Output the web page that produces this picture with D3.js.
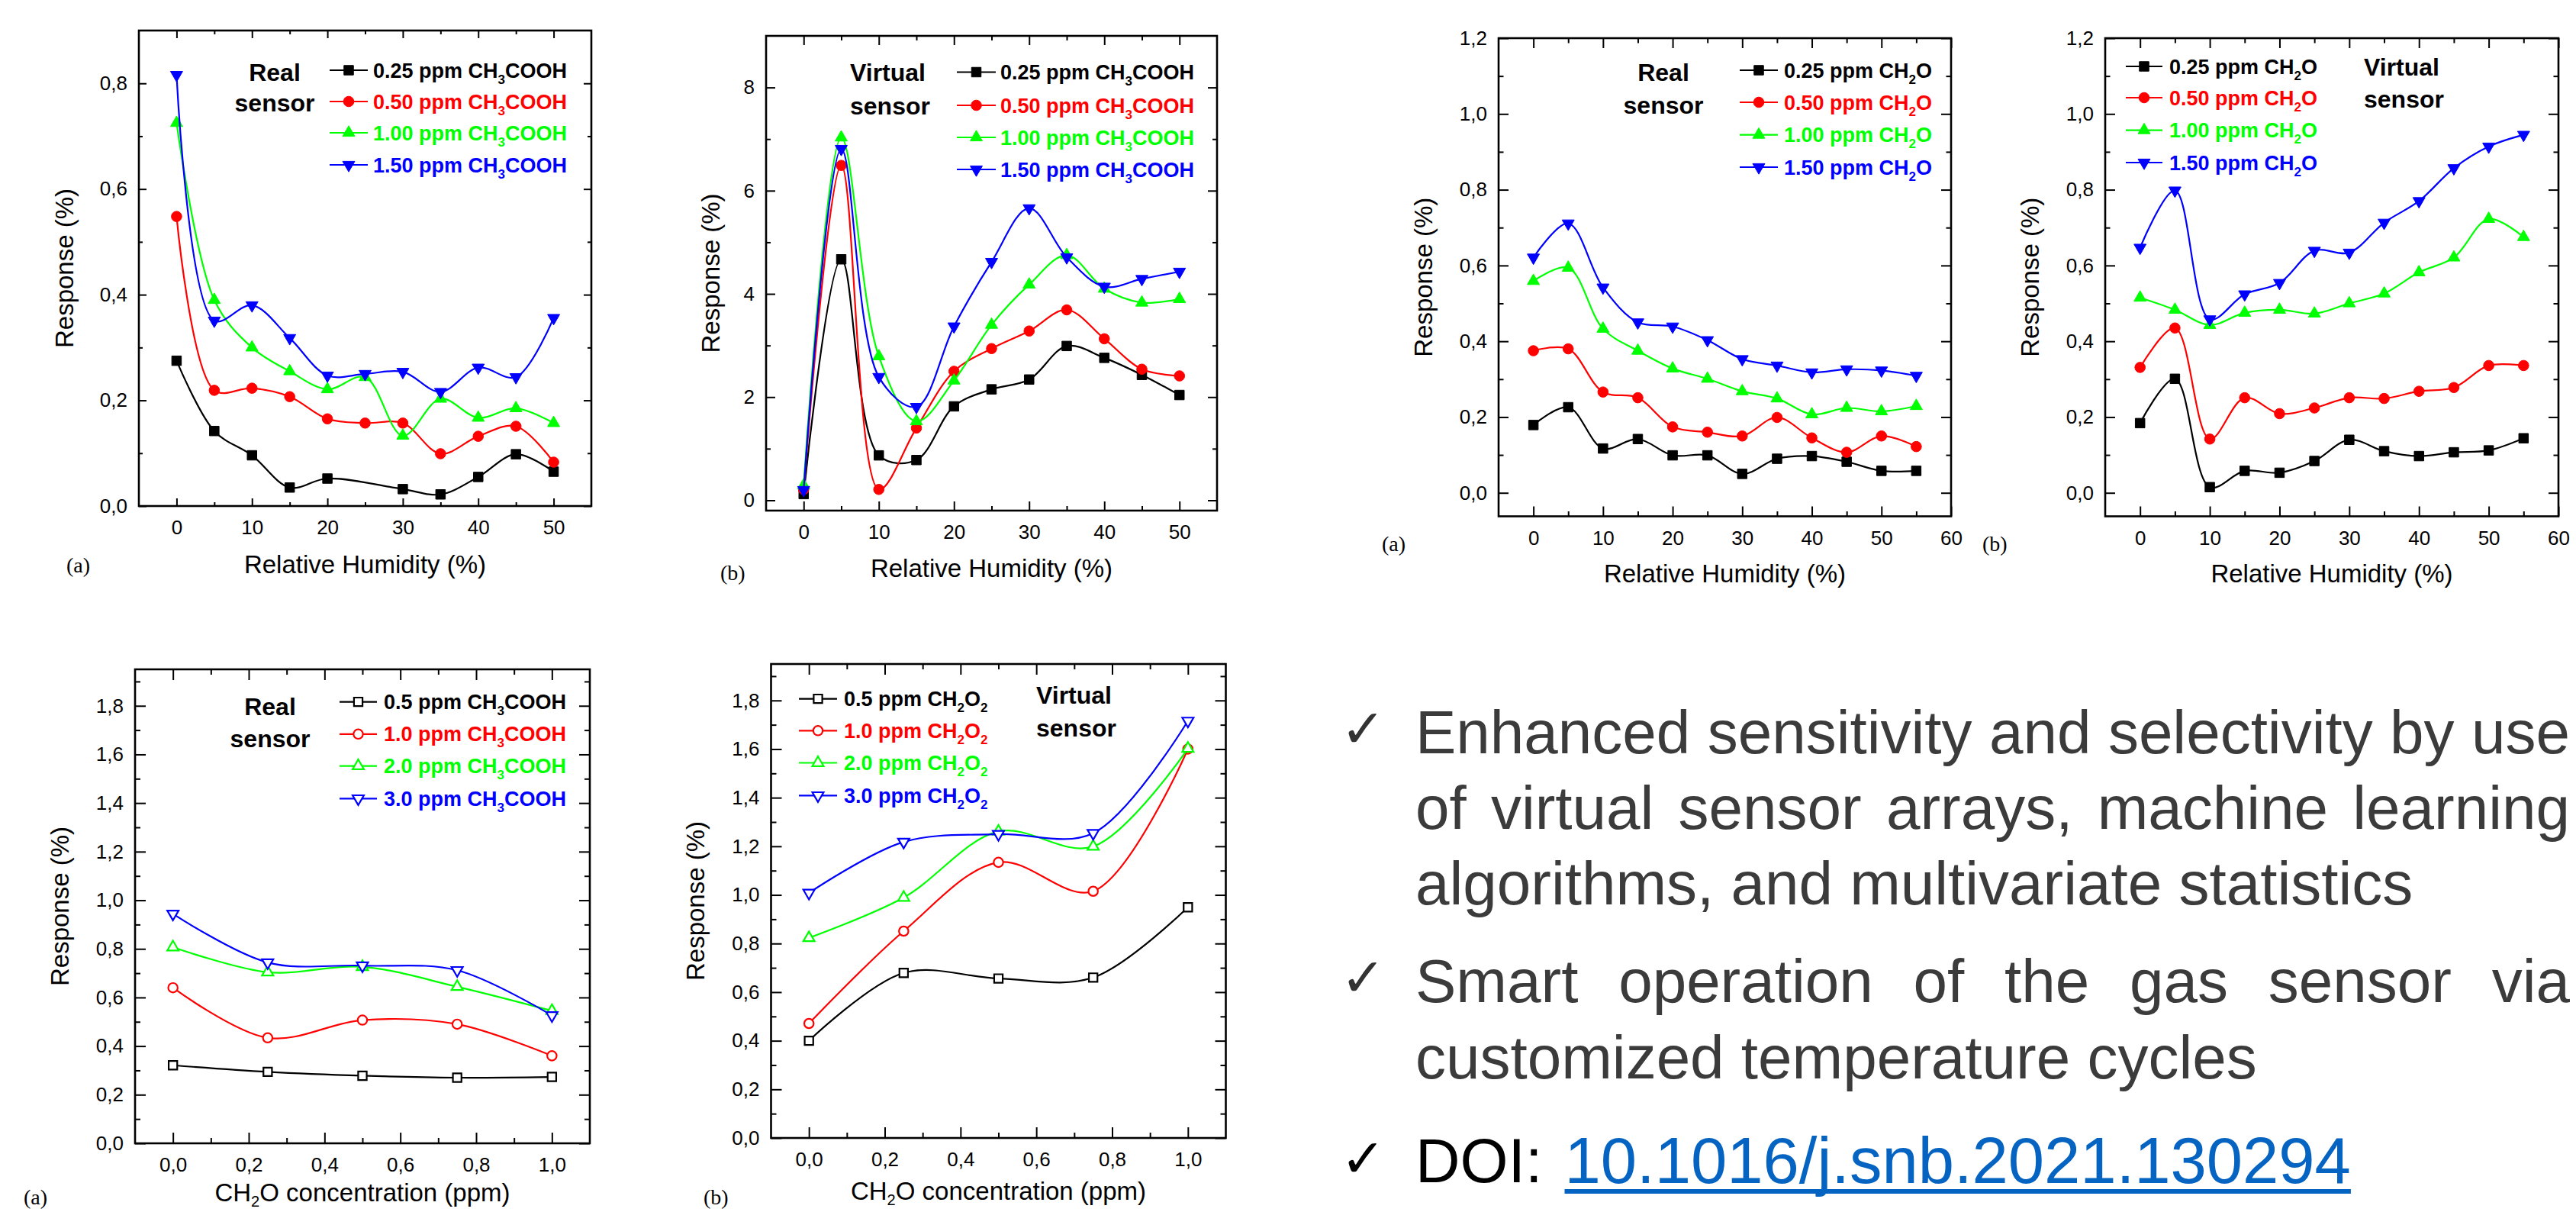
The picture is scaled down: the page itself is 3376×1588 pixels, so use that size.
<!DOCTYPE html>
<html><head><meta charset="utf-8">
<script src="https://cdn.jsdelivr.net/npm/d3@7"></script>
<style>body{margin:0;background:#fff}svg{display:block}</style>
</head><body>
<svg id="c" width="3376" height="1588"></svg>
<script>
// ---------- DATA ----------
const humidity50 = [0,5,10,15,20,25,30,35,40,45,50];
const humidity55 = [0,5,10,15,20,25,30,35,40,45,50,55];
const concentration = [0,0.25,0.5,0.75,1.0];

// (a) acetic acid, real sensor
const acReal025 = [0.275,0.142,0.096,0.035,0.052,null,0.032,0.022,0.055,0.098,0.065];
const acReal050 = [0.548,0.219,0.223,0.207,0.165,0.157,0.157,0.099,0.132,0.151,0.083];
const acReal100 = [0.725,0.390,0.300,0.255,0.221,0.244,0.133,0.203,0.167,0.185,0.157];
const acReal150 = [0.816,0.351,0.380,0.318,0.247,0.250,0.254,0.216,0.262,0.244,0.356];
// (b) acetic acid, virtual sensor
const acVirt025 = [0.12,4.67,0.87,0.78,1.82,2.15,2.34,2.99,2.76,2.43,2.04];
const acVirt050 = [0.21,6.49,0.21,1.40,2.50,2.94,3.28,3.69,3.13,2.54,2.41];
const acVirt100 = [0.29,7.03,2.79,1.53,2.32,3.40,4.18,4.75,4.10,3.83,3.90];
const acVirt150 = [0.20,6.81,2.39,1.81,3.37,4.62,5.66,4.71,4.14,4.29,4.43];
// (a) formaldehyde, real sensor
const fmReal025 = [0.179,0.226,0.117,0.142,0.099,0.099,0.050,0.090,0.097,0.082,0.058,0.058];
const fmReal050 = [0.375,0.380,0.266,0.251,0.174,0.160,0.150,0.199,0.145,0.107,0.150,0.122];
const fmReal100 = [0.559,0.594,0.433,0.375,0.328,0.301,0.268,0.249,0.207,0.224,0.215,0.229];
const fmReal150 = [0.621,0.711,0.542,0.450,0.439,0.403,0.353,0.336,0.318,0.326,0.323,0.309];
// (b) formaldehyde, virtual sensor
const fmVirt025 = [0.184,0.301,0.015,0.058,0.053,0.084,0.140,0.110,0.097,0.107,0.112,0.144];
const fmVirt050 = [0.331,0.435,0.142,0.251,0.209,0.224,0.251,0.249,0.268,0.278,0.336,0.336];
const fmVirt100 = [0.515,0.483,0.443,0.475,0.483,0.473,0.500,0.526,0.582,0.621,0.723,0.675];
const fmVirt150 = [0.647,0.798,0.458,0.524,0.554,0.639,0.634,0.713,0.770,0.857,0.914,0.945];
// (a) cross response, real sensor
const crReal05 = [0.321,0.294,0.278,0.270,0.273];
const crReal10 = [0.640,0.434,0.507,0.490,0.360];
const crReal20 = [0.807,0.704,0.726,0.644,0.545];
const crReal30 = [0.944,0.744,0.731,0.712,0.526];
// (b) cross response, virtual sensor
const crVirt05 = [0.400,0.679,0.656,0.660,0.949];
const crVirt10 = [0.471,0.851,1.134,1.015,1.600];
const crVirt20 = [0.823,0.989,1.261,1.199,1.602];
const crVirt30 = [1.008,1.218,1.250,1.254,1.716];

// legend labels: even segments normal, odd segments subscript
const labelsAcetic = [["0.25 ppm CH","3","COOH"],["0.50 ppm CH","3","COOH"],["1.00 ppm CH","3","COOH"],["1.50 ppm CH","3","COOH"]];
const labelsFormal = [["0.25 ppm CH","2","O"],["0.50 ppm CH","2","O"],["1.00 ppm CH","2","O"],["1.50 ppm CH","2","O"]];
const labelsCrossReal = [["0.5 ppm CH","3","COOH"],["1.0 ppm CH","3","COOH"],["2.0 ppm CH","3","COOH"],["3.0 ppm CH","3","COOH"]];
const labelsCrossVirt = [["0.5 ppm CH","2","O","2"],["1.0 ppm CH","2","O","2"],["2.0 ppm CH","2","O","2"],["3.0 ppm CH","2","O","2"]];

// tick values
const ticksRH50 = [0,10,20,30,40,50];
const ticksRH50Minor = [5,15,25,35,45];
const ticksRH60 = [0,10,20,30,40,50,60];
const ticksRH60Minor = [5,15,25,35,45,55];
const ticksAcReal = [0,0.2,0.4,0.6,0.8];
const ticksAcRealMinor = [0.1,0.3,0.5,0.7];
const ticksAcVirt = [0,2,4,6,8];
const ticksAcVirtMinor = [1,3,5,7];
const ticksFormal = [0,0.2,0.4,0.6,0.8,1.0,1.2];
const ticksFormalMinor = [0.1,0.3,0.5,0.7,0.9,1.1];
const ticksCross = [0,0.2,0.4,0.6,0.8,1.0,1.2,1.4,1.6,1.8];
const ticksCrossMinor = [0.1,0.3,0.5,0.7,0.9,1.1,1.3,1.5,1.7,1.9];
const ticksConc = [0,0.2,0.4,0.6,0.8,1.0];
const ticksConcMinor = [0.1,0.3,0.5,0.7,0.9];

const seriesColors = ["#000000","#ff0000","#00ff00","#0000ff"];

// ---------- DRAW ----------
const svg = d3.select("#c");
svg.append("rect").attr("width",3376).attr("height",1588).attr("fill","#fff");
const SANS = "'Liberation Sans', Arial, sans-serif";
const comma = d => d3.format(".1f")(d).replace(".", ",");
const intf = d3.format("d");

function addSegments(text, segs, subSize, shift) {
  segs.forEach((s, i) => {
    const t = text.append("tspan").text(s);
    if (i % 2 === 1) t.attr("font-size", subSize).attr("dy", shift);
    else if (i > 0) t.attr("dy", -shift);
  });
}

const symbolTypes = [d3.symbolSquare, d3.symbolCircle, d3.symbolTriangle, d3.symbolTriangle];

function drawPanel(c) {
  const g = svg.append("g");
  const x = d3.scaleLinear().domain(c.xd).range([c.L, c.R]);
  const y = d3.scaleLinear().domain(c.yd).range([c.B, c.T]);

  const axisStyle = sel => {
    sel.select(".domain").remove();
    sel.selectAll("line").attr("stroke", "#000").attr("stroke-width", 2);
    sel.selectAll("text").attr("font-family", SANS).attr("font-size", 26).attr("fill", "#000");
  };
  // bottom
  g.append("g").attr("transform", `translate(0,${c.B})`)
    .call(d3.axisBottom(x).tickValues(c.xMajor).tickSize(-c.tk).tickPadding(19).tickFormat(c.xFmt)).call(axisStyle);
  g.append("g").attr("transform", `translate(0,${c.B})`)
    .call(d3.axisBottom(x).tickValues(c.xMinor).tickSize(-c.tk/2).tickFormat("")).call(axisStyle);
  // top
  g.append("g").attr("transform", `translate(0,${c.T})`)
    .call(d3.axisTop(x).tickValues(c.xMajor).tickSize(-c.tk).tickFormat("")).call(axisStyle);
  g.append("g").attr("transform", `translate(0,${c.T})`)
    .call(d3.axisTop(x).tickValues(c.xMinor).tickSize(-c.tk/2).tickFormat("")).call(axisStyle);
  // left
  g.append("g").attr("transform", `translate(${c.L},0)`)
    .call(d3.axisLeft(y).tickValues(c.yMajor).tickSize(-c.tk).tickPadding(15).tickFormat(c.yFmt)).call(axisStyle);
  g.append("g").attr("transform", `translate(${c.L},0)`)
    .call(d3.axisLeft(y).tickValues(c.yMinor).tickSize(-c.tk/2).tickFormat("")).call(axisStyle);
  // right
  g.append("g").attr("transform", `translate(${c.R},0)`)
    .call(d3.axisRight(y).tickValues(c.yMajor).tickSize(-c.tk).tickFormat("")).call(axisStyle);
  g.append("g").attr("transform", `translate(${c.R},0)`)
    .call(d3.axisRight(y).tickValues(c.yMinor).tickSize(-c.tk/2).tickFormat("")).call(axisStyle);

  // frame
  g.append("rect").attr("x", c.L).attr("y", c.T).attr("width", c.R - c.L).attr("height", c.B - c.T)
    .attr("fill", "none").attr("stroke", "#000").attr("stroke-width", 2.6);

  // series
  const line = d3.line().x(d => x(d[0])).y(d => y(d[1])).curve(d3.curveCatmullRom.alpha(0.5));
  const sizes = c.filled ? [156, 145, 110, 110] : [125, 120, 95, 95];
  c.series.forEach((vals, si) => {
    const pts = c.xs.map((xv, i) => [xv, vals[i]]).filter(d => d[1] !== null);
    const col = seriesColors[si];
    g.append("path").attr("d", line(pts)).attr("fill", "none").attr("stroke", col).attr("stroke-width", 2.2);
    const sym = d3.symbol().type(symbolTypes[si]).size(sizes[si]);
    g.selectAll(null).data(pts).enter().append("path")
      .attr("d", sym)
      .attr("transform", d => `translate(${x(d[0])},${y(d[1])})` + (si === 3 ? " rotate(180)" : ""))
      .attr("fill", c.filled ? col : "#fff")
      .attr("stroke", col).attr("stroke-width", c.filled ? 1 : 2.2);
  });

  // legend
  c.labels.forEach((lab, si) => {
    const col = seriesColors[si];
    const ly = c.legRows[si];
    g.append("line").attr("x1", c.legLine[0]).attr("x2", c.legLine[1]).attr("y1", ly).attr("y2", ly)
      .attr("stroke", col).attr("stroke-width", 2.2);
    const sym = d3.symbol().type(symbolTypes[si]).size(sizes[si]);
    g.append("path").attr("d", sym)
      .attr("transform", `translate(${(c.legLine[0] + c.legLine[1]) / 2},${ly})` + (si === 3 ? " rotate(180)" : ""))
      .attr("fill", c.filled ? col : "#fff").attr("stroke", col).attr("stroke-width", c.filled ? 1 : 2.2);
    const t = g.append("text").attr("x", c.legText).attr("y", ly + 9.5)
      .attr("font-family", SANS).attr("font-weight", "bold").attr("font-size", 27).attr("fill", col);
    addSegments(t, lab, 17, 8);
  });

  // sensor label
  c.sensor.forEach((s, i) => {
    g.append("text").attr("x", c.sensorX).attr("y", c.sensorY[i] + 11.5).attr("text-anchor", c.sensorAnchor)
      .attr("font-family", SANS).attr("font-weight", "bold").attr("font-size", 32).text(s);
  });

  // axis titles
  const xt = g.append("text").attr("x", (c.L + c.R) / 2).attr("y", c.xTitleY).attr("text-anchor", "middle")
    .attr("font-family", SANS).attr("font-size", 33);
  addSegments(xt, c.xTitle, 20, 7);
  g.append("text").attr("transform", `translate(${c.L - c.yTitleOff},${(c.T + c.B) / 2}) rotate(-90)`)
    .attr("text-anchor", "middle").attr("dy", "0.36em")
    .attr("font-family", SANS).attr("font-size", 33).text("Response (%)");
  // panel tag
  g.append("text").attr("x", c.tagX).attr("y", c.tagY)
    .attr("font-family", "'Liberation Serif', 'Times New Roman', serif").attr("font-size", 28).text(c.tag);
}

const rhTitle = ["Relative Humidity (%)"];
const concTitle = ["CH", "2", "O concentration (ppm)"];

const panels = [
  {L:182,R:775,T:40,B:663, xd:[-5,55], yd:[0,0.9], xs:humidity50,
   xMajor:ticksRH50, xMinor:ticksRH50Minor, yMajor:ticksAcReal, yMinor:ticksAcRealMinor,
   xFmt:intf, yFmt:comma, tk:10, filled:true,
   series:[acReal025,acReal050,acReal100,acReal150], labels:labelsAcetic,
   legLine:[432,482], legText:489, legRows:[92,133,174,216],
   sensor:["Real","sensor"], sensorX:360, sensorAnchor:"middle", sensorY:[94.5,134],
   xTitle:rhTitle, xTitleY:751, yTitleOff:98, tag:"(a)", tagX:87, tagY:750},
  {L:1004,R:1595,T:47,B:669, xd:[-5,55], yd:[-0.2,9], xs:humidity50,
   xMajor:ticksRH50, xMinor:ticksRH50Minor, yMajor:ticksAcVirt, yMinor:ticksAcVirtMinor,
   xFmt:intf, yFmt:intf, tk:12, filled:true,
   series:[acVirt025,acVirt050,acVirt100,acVirt150], labels:labelsAcetic,
   legLine:[1254,1305], legText:1311, legRows:[94.5,138,180,222],
   sensor:["Virtual","sensor"], sensorX:1114, sensorAnchor:"start", sensorY:[94.5,138],
   xTitle:rhTitle, xTitleY:756, yTitleOff:73, tag:"(b)", tagX:944, tagY:760},
  {L:1964,R:2557,T:50,B:676.5, xd:[-5,60], yd:[-0.062,1.2], xs:humidity55,
   xMajor:ticksRH60, xMinor:ticksRH60Minor, yMajor:ticksFormal, yMinor:ticksFormalMinor,
   xFmt:intf, yFmt:comma, tk:13, filled:true,
   series:[fmReal025,fmReal050,fmReal100,fmReal150], labels:labelsFormal,
   legLine:[2280,2330], legText:2338, legRows:[92,134,176.6,219],
   sensor:["Real","sensor"], sensorX:2180, sensorAnchor:"middle", sensorY:[94.5,137],
   xTitle:rhTitle, xTitleY:763, yTitleOff:99, tag:"(a)", tagX:1811, tagY:722},
  {L:2759,R:3353,T:50,B:676.5, xd:[-5,60], yd:[-0.062,1.2], xs:humidity55,
   xMajor:ticksRH60, xMinor:ticksRH60Minor, yMajor:ticksFormal, yMinor:ticksFormalMinor,
   xFmt:intf, yFmt:comma, tk:13, filled:true,
   series:[fmVirt025,fmVirt050,fmVirt100,fmVirt150], labels:labelsFormal,
   legLine:[2786,2834], legText:2843, legRows:[87,128,170.6,213],
   sensor:["Virtual","sensor"], sensorX:3098, sensorAnchor:"start", sensorY:[87,129],
   xTitle:rhTitle, xTitleY:763, yTitleOff:99, tag:"(b)", tagX:2598, tagY:722},
  {L:177,R:773,T:877,B:1498, xd:[-0.1,1.1], yd:[0,1.95], xs:concentration,
   xMajor:ticksConc, xMinor:ticksConcMinor, yMajor:ticksCross, yMinor:ticksCrossMinor,
   xFmt:comma, yFmt:comma, tk:14, filled:false,
   series:[crReal05,crReal10,crReal20,crReal30], labels:labelsCrossReal,
   legLine:[445,494], legText:503, legRows:[919.6,961.8,1003.6,1046.3],
   sensor:["Real","sensor"], sensorX:354, sensorAnchor:"middle", sensorY:[925.6,967.4],
   xTitle:concTitle, xTitleY:1574, yTitleOff:99, tag:"(a)", tagX:31, tagY:1578},
  {L:1010.5,R:1606.5,T:870,B:1491, xd:[-0.1,1.1], yd:[0,1.95], xs:concentration,
   xMajor:ticksConc, xMinor:ticksConcMinor, yMajor:ticksCross, yMinor:ticksCrossMinor,
   xFmt:comma, yFmt:comma, tk:14, filled:false,
   series:[crVirt05,crVirt10,crVirt20,crVirt30], labels:labelsCrossVirt,
   legLine:[1047,1097], legText:1106, legRows:[915.6,957.3,999.5,1042.3],
   sensor:["Virtual","sensor"], sensorX:1358, sensorAnchor:"start", sensorY:[910.6,953.3],
   xTitle:concTitle, xTitleY:1572, yTitleOff:99, tag:"(b)", tagX:922, tagY:1578}
];
panels.forEach(drawPanel);

// ---------- TEXT BLOCK ----------
const bulletLines = [
  {words:"Enhanced sensitivity and selectivity by use".split(" "), y:987, justify:true, check:true},
  {words:"of virtual sensor arrays, machine learning".split(" "), y:1086, justify:true},
  {words:"algorithms, and multivariate statistics".split(" "), y:1185, justify:false},
  {words:"Smart operation of the gas sensor via".split(" "), y:1313, justify:true, check:true},
  {words:"customized temperature cycles".split(" "), y:1412.5, justify:false}
];
const TX0 = 1855, TX1 = 3368, TFS = 80, TCOL = "#3b3b3b";
const tb = svg.append("g").attr("font-family", SANS).attr("font-size", TFS);
bulletLines.forEach(l => {
  if (l.check) tb.append("text").attr("x", 1757).attr("y", l.y - 8).attr("font-family", "'DejaVu Sans', sans-serif")
    .attr("font-size", 70).attr("font-weight", "bold").attr("fill", "#333").text("\u2713");
  const nodes = l.words.map(w => tb.append("text").attr("y", l.y).attr("fill", TCOL).text(w));
  const widths = nodes.map(n => n.node().getComputedTextLength());
  const total = d3.sum(widths);
  const spaceW = TFS * 0.278;
  const gap = l.justify ? (TX1 - TX0 - total) / (l.words.length - 1) : spaceW;
  let xp = TX0;
  nodes.forEach((n, i) => { n.attr("x", xp); xp += widths[i] + gap; });
});
// DOI line
tb.append("text").attr("x", 1757).attr("y", 1542).attr("font-family", "'DejaVu Sans', sans-serif")
  .attr("font-size", 70).attr("font-weight", "bold").attr("fill", "#000").text("\u2713");
const doiLabel = tb.append("text").attr("x", TX0).attr("y", 1549).attr("fill", "#000").attr("font-size", 81).text("DOI:");
const doiW = doiLabel.node().getComputedTextLength();
const linkX = TX0 + doiW + 29;
const link = tb.append("text").attr("x", linkX).attr("y", 1550).attr("fill", "#0563C1").attr("font-size", 85)
  .text("10.1016/j.snb.2021.130294");
const linkW = link.node().getComputedTextLength();
tb.append("rect").attr("x", linkX).attr("y", 1558).attr("width", linkW).attr("height", 6).attr("fill", "#0563C1");
</script>
</body></html>
